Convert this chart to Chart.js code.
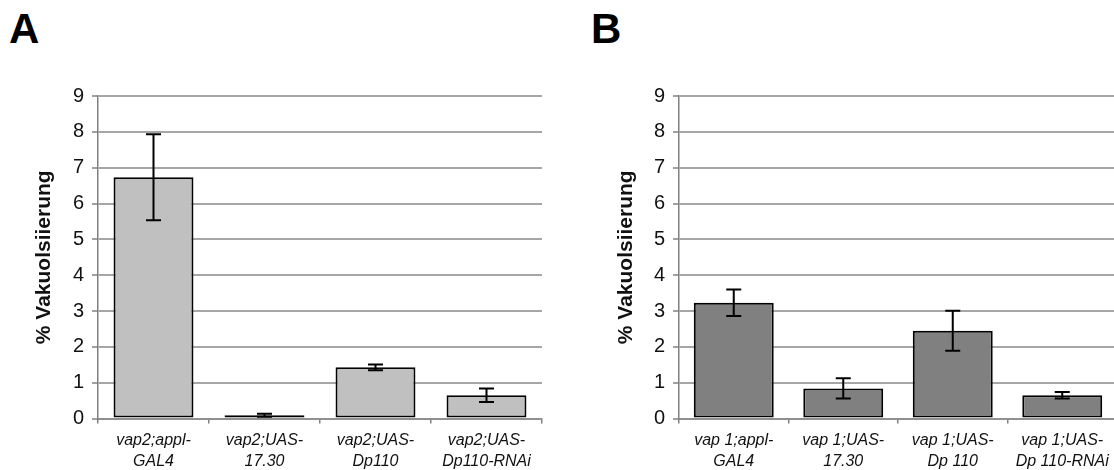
<!DOCTYPE html>
<html>
<head>
<meta charset="utf-8">
<script src="https://cdn.jsdelivr.net/npm/chart.js@4.4.1/dist/chart.umd.min.js"></script>
<style>
    body { margin: 0; width: 1114px; height: 470px; overflow: hidden; background: #fff; position: relative; font-family: "Liberation Sans", Arial, sans-serif; }
    .panel-letter { position: absolute; font-size: 42px; font-weight: bold; line-height: 42px; color: #000; }
    canvas { position: absolute; top: 0; }
</style>
</head>
<body>
<div class="panel-letter" style="left: 9px; top: 8px;">A</div>
<div class="panel-letter" style="left: 591px; top: 8px;">B</div>
<canvas id="chartA" width="557" height="470" style="left: 0px;"></canvas>
<canvas id="chartB" width="560" height="470" style="left: 560px;"></canvas>
<script>
// Panel A data
const labelsA = [['vap2;appl-', 'GAL4'], ['vap2;UAS-', '17.30'], ['vap2;UAS-', 'Dp110'], ['vap2;UAS-', 'Dp110-RNAi']];
const valuesA = [6.73, 0.09, 1.43, 0.65];
const errorsA = [1.2, 0.04, 0.08, 0.19];

// Panel B data
const labelsB = [['vap 1;appl-', 'GAL4'], ['vap 1;UAS-', '17.30'], ['vap 1;UAS-', 'Dp 110'], ['vap 1;UAS-', 'Dp 110-RNAi']];
const valuesB = [3.23, 0.84, 2.45, 0.65];
const errorsB = [0.37, 0.28, 0.56, 0.09];

// Y axis
const yMin = 0;
const yMax = 9;
const yStep = 1;
const yTitle = '% Vakuolsiierung';

// Draw symmetric error bars on top of the bars
const errorBarPlugin = {
    id: 'errorBars',
    afterDatasetsDraw(chart, args, opts) {
        const ctx = chart.ctx;
        const yScale = chart.scales.y;
        const meta = chart.getDatasetMeta(0);
        const values = chart.data.datasets[0].data;
        ctx.save();
        ctx.strokeStyle = '#000';
        ctx.lineWidth = 2;
        meta.data.forEach(function(bar, i) {
            const err = opts.errors[i];
            const yTop = yScale.getPixelForValue(values[i] + err);
            const yBot = yScale.getPixelForValue(values[i] - err);
            const x = bar.x;
            const cap = 7.5;
            ctx.beginPath();
            ctx.moveTo(x, yTop); ctx.lineTo(x, yBot);
            ctx.moveTo(x - cap, yTop); ctx.lineTo(x + cap, yTop);
            ctx.moveTo(x - cap, yBot); ctx.lineTo(x + cap, yBot);
            ctx.stroke();
        });
        ctx.restore();
    }
};

function makeChart(id, labels, values, errors, fill, cfg) {
    return new Chart(document.getElementById(id), {
        type: 'bar',
        data: {
            labels: labels,
            datasets: [{
                data: values,
                backgroundColor: fill,
                borderColor: '#000',
                borderWidth: 2,
                borderSkipped: false,
                categoryPercentage: cfg.barPct,
                barPercentage: 1
            }]
        },
        options: {
            responsive: false,
            animation: false,
            events: [],
            layout: { padding: { left: 0, top: 96, right: cfg.padRight, bottom: 0 } },
            plugins: {
                legend: { display: false },
                tooltip: { enabled: false },
                errorBars: { errors: errors }
            },
            scales: {
                x: {
                    grid: { drawOnChartArea: false, drawTicks: true, tickLength: 5, color: '#808080', lineWidth: 1.5 },
                    border: { color: '#909090', width: 2 },
                    ticks: {
                        color: '#111',
                        padding: 6,
                        maxRotation: 0,
                        autoSkip: false,
                        font: { family: '"Liberation Sans", Arial, sans-serif', size: cfg.xFont, style: 'italic', lineHeight: 1.33 }
                    },
                    afterFit: function(scale) { scale.height = 51.5; }
                },
                y: {
                    min: yMin,
                    max: yMax,
                    grid: { color: '#a6a6a6', lineWidth: 2, tickLength: 6, tickColor: '#808080', tickWidth: 1.5 },
                    border: { color: '#808080', width: 1.5 },
                    ticks: {
                        stepSize: yStep,
                        padding: 8,
                        color: '#111',
                        font: { family: '"Liberation Sans", Arial, sans-serif', size: 20 }
                    },
                    title: {
                        display: true,
                        text: yTitle,
                        color: '#111',
                        padding: { top: cfg.titlePad, bottom: 0 },
                        font: { family: '"Liberation Sans", Arial, sans-serif', size: 21, weight: 'bold' }
                    },
                    afterFit: function(scale) { scale.width = cfg.axisWidth; }
                }
            }
        },
        plugins: [errorBarPlugin]
    });
}

makeChart('chartA', labelsA, valuesA, errorsA, '#c0c0c0', { barPct: 0.72, padRight: 15, axisWidth: 98, titlePad: 32, xFont: 16 });
makeChart('chartB', labelsB, valuesB, errorsB, '#808080', { barPct: 0.73, padRight: 3, axisWidth: 119, titlePad: 54, xFont: 16 });
</script>
</body>
</html>
